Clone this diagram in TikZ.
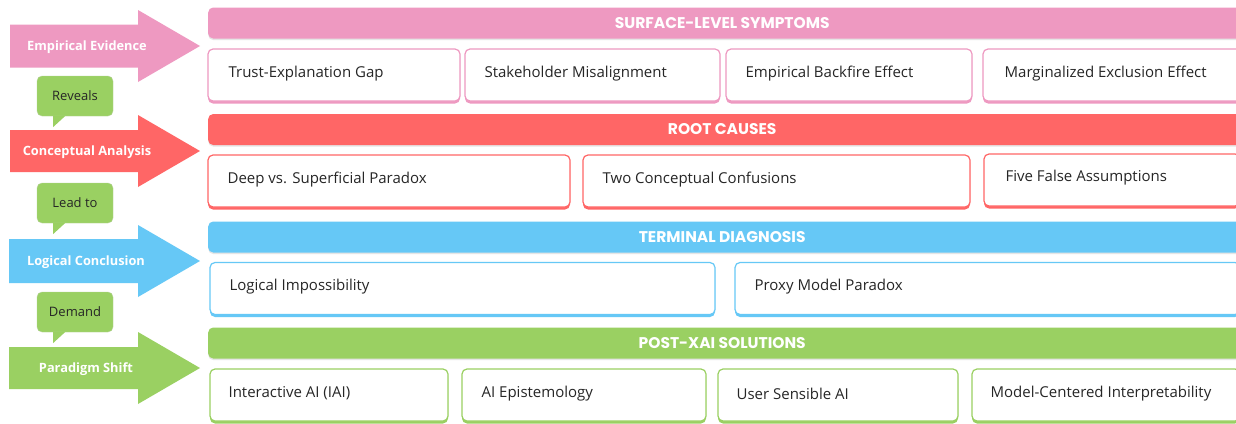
\documentclass[tikz,border=0pt]{standalone}
\usepackage{fontspec}
\setmainfont{Open Sans}
\newfontfamily\bannerfont{Poppins}
\usetikzlibrary{shadows}

\definecolor{pinkc}{HTML}{EE99C1}
\definecolor{redc}{HTML}{FF6666}
\definecolor{bluec}{HTML}{66C8F6}
\definecolor{greenc}{HTML}{9AD062}

\tikzset{
  banner/.style={fill=#1, rounded corners=5pt, minimum height=31pt, anchor=west,
    minimum width=1040pt, font=\bannerfont\bfseries\fontsize{15.5}{17}\selectfont, text=white,
    drop shadow={shadow xshift=0pt, shadow yshift=-1.5pt, opacity=0.25, fill=black!40}},
  card/.style={draw=#1, fill=white, line width=1.2pt, rounded corners=5pt, minimum height=52pt,
    drop shadow={shadow xshift=0pt, shadow yshift=-2.5pt, opacity=1, fill=#1}},
  cardtxt/.style={anchor=west, font=\fontsize{15}{17}\selectfont, text=black!85, inner sep=0pt},
  steplbl/.style={font=\bfseries\fontsize{12.8}{14}\selectfont, text=white},
  bubble/.style={fill=greenc, draw=greenc!85!black!60!white, rounded corners=5pt,
    minimum width=76pt, minimum height=40pt, font=\fontsize{13}{15}\selectfont, text=black!85}
}

\begin{document}
\begin{tikzpicture}[x=1pt, y=-1pt]
\clip (0,0) rectangle (1236,423);
\fill[white] (0,0) rectangle (1236,423);

% left side steps
\fill[pinkc] (10,24.5) -- (138,24.5) -- (138,10) -- (200,46) -- (138,82) -- (138,67.5) -- (10,67.5) -- cycle;
\node[steplbl] (empev) at (87,47) {Empirical Evidence};
\fill[redc] (10,130) -- (138,130) -- (138,115) -- (200,151) -- (138,187) -- (138,172) -- (10,172) -- cycle;
\node[steplbl] (conan) at (87,152) {Conceptual Analysis};
\fill[bluec] (9,239) -- (138,239) -- (138,225) -- (200,261) -- (138,297) -- (138,283) -- (9,283) -- cycle;
\node[steplbl] (logcon) at (86,262) {Logical Conclusion};
\fill[greenc] (9,347) -- (138,347) -- (138,332) -- (200,368) -- (138,404) -- (138,389) -- (9,389) -- cycle;
\node[steplbl] (parsh) at (86,369) {Paradigm Shift};

% speech bubbles
\node[bubble] (reveals) at (75,96) {Reveals};
\fill[greenc] ([xshift=-22pt]reveals.south) -- ([xshift=-10pt]reveals.south) -- ([xshift=-22pt,yshift=-11pt]reveals.south) -- cycle;
\node[bubble] (leadto) at (75,203) {Lead to};
\fill[greenc] ([xshift=-22pt]leadto.south) -- ([xshift=-10pt]leadto.south) -- ([xshift=-22pt,yshift=-11pt]leadto.south) -- cycle;
\node[bubble] (demand) at (75,312) {Demand};
\fill[greenc] ([xshift=-22pt]demand.south) -- ([xshift=-10pt]demand.south) -- ([xshift=-22pt,yshift=-11pt]demand.south) -- cycle;

% banners
\node[banner=pinkc] (symptoms) at (208,23) {\hspace*{-12pt}SURFACE-LEVEL SYMPTOMS};
\node[banner=redc] (causes) at (208,129.5) {\hspace*{-12pt}ROOT CAUSES};
\node[banner=bluec] (diagnosis) at (208,237) {\hspace*{-12pt}TERMINAL DIAGNOSIS};
\node[banner=greenc] (solutions) at (208,343) {\hspace*{-12pt}POST-XAI SOLUTIONS};

% surface-level symptoms
\node[card=pinkc, minimum width=252pt] (sym1) at (334,75) {};
\node[cardtxt] at ([xshift=21pt,yshift=1.5pt]sym1.west) {Trust-Explanation Gap};
\node[card=pinkc, minimum width=255pt] (sym2) at (592.5,75) {};
\node[cardtxt] at ([xshift=20pt,yshift=1.5pt]sym2.west) {Stakeholder Misalignment};
\node[card=pinkc, minimum width=246pt] (sym3) at (849,75) {};
\node[cardtxt] at ([xshift=20pt,yshift=1.5pt]sym3.west) {Empirical Backfire Effect};
\node[card=pinkc, minimum width=258pt] (sym4) at (1112,75) {};
\node[cardtxt] at ([xshift=22pt,yshift=1.5pt]sym4.west) {Marginalized Exclusion Effect};

% root causes
\node[card=redc, minimum width=362pt] (cau1) at (389,181) {};
\node[cardtxt] at ([xshift=20pt,yshift=1.5pt]cau1.west) {Deep vs. Superficial Paradox};
\node[card=redc, minimum width=387pt] (cau2) at (776.5,181) {};
\node[cardtxt] at ([xshift=20pt,yshift=1.5pt]cau2.west) {Two Conceptual Confusions};
\node[card=redc, minimum width=256pt] (cau3) at (1112,180) {};
\node[cardtxt] at ([xshift=22pt,yshift=2.5pt]cau3.west) {Five False Assumptions};

% terminal diagnosis
\node[card=bluec, minimum width=505pt] (dia1) at (462.5,288.5) {};
\node[cardtxt] at ([xshift=20pt,yshift=1.5pt]dia1.west) {Logical Impossibility};
\node[card=bluec, minimum width=505pt] (dia2) at (987.5,288.5) {};
\node[cardtxt] at ([xshift=20pt,yshift=1.5pt]dia2.west) {Proxy Model Paradox};

% post-xai solutions
\node[card=greenc, minimum width=238pt] (sol1) at (329,395) {};
\node[cardtxt] at ([xshift=19pt,yshift=1.5pt]sol1.west) {Interactive AI (IAI)};
\node[card=greenc, minimum width=244pt] (sol2) at (584,395) {};
\node[cardtxt] at ([xshift=20pt,yshift=1.5pt]sol2.west) {AI Epistemology};
\node[card=greenc, minimum width=240pt] (sol3) at (838,395) {};
\node[cardtxt] at ([xshift=19pt,yshift=1.5pt]sol3.west) {User Sensible AI};
\node[card=greenc, minimum width=268pt] (sol4) at (1106,395) {};
\node[cardtxt] at ([xshift=19pt,yshift=1.5pt]sol4.west) {Model-Centered Interpretability};
\end{tikzpicture}
\end{document}
